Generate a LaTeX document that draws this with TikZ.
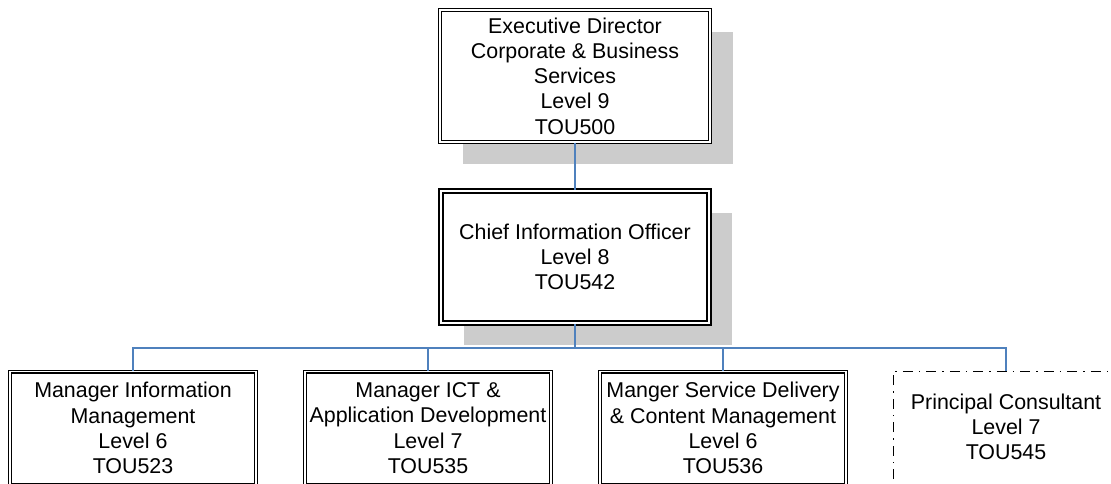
\documentclass[tikz,border=0pt]{standalone}
\usepackage{fontspec}
\setmainfont{Liberation Sans}
\usetikzlibrary{shadows}
\definecolor{linkblue}{RGB}{79,129,189}
\definecolor{shadegray}{RGB}{204,204,204}
\begin{document}
\begin{tikzpicture}[x=1pt,y=-1pt]
      \useasboundingbox (0,0) rectangle (1111,483);

      \begin{scope}[every node/.style={rectangle,draw,fill=white,align=center,inner sep=0pt,
          font=\fontsize{21.4}{25.3}\selectfont}]
        \node[double,line width=1.2pt,double distance=1.6pt,minimum width=270pt,minimum height=132pt,
          drop shadow={shadow xshift=23pt,shadow yshift=-22pt,fill=shadegray,opacity=1}]
          (1) at (575,76) {Executive Director\\Corporate \& Business\\Services\\Level 9\\TOU500};
        \node[double,line width=1.8pt,double distance=2pt,minimum width=268.4pt,minimum height=132.4pt,
          drop shadow={shadow xshift=23pt,shadow yshift=-22pt,fill=shadegray,opacity=1}]
          (2) at (575,257) {Chief Information Officer\\Level 8\\TOU542};
      \end{scope}

      \begin{scope}[every node/.style={rectangle,draw,fill=white,align=center,inner sep=0pt,
          minimum height=113pt,font=\fontsize{21.4}{25.3}\selectfont}]
        \node[double,line width=1.2pt,double distance=1.6pt,minimum width=246pt]
          (3) at (133,428) {Manager Information\\Management\\Level 6\\TOU523};
        \node[double,line width=1.2pt,double distance=1.6pt,minimum width=246pt]
          (4) at (428,428) {Manager ICT \&\\Application Development\\Level 7\\TOU535};
        \node[double,line width=1.2pt,double distance=1.6pt,minimum width=246pt]
          (5) at (723,428) {Manger Service Delivery\\\& Content Management\\Level 6\\TOU536};
        \node[draw=none,minimum width=225pt,minimum height=111pt]
          (6) at (1006,427) {Principal Consultant\\Level 7\\TOU545};
      \end{scope}

      % dash-dot frame, runs off the page
      \draw[line width=1.6pt,dash pattern=on 10pt off 6pt on 1.5pt off 6pt]
        ([yshift=-20pt]6.south west) -- (6.north west) -- ([xshift=20pt]6.north east);

      \coordinate (bus) at (575,348);

      \begin{scope}[every path/.style={draw=linkblue,line width=1.3pt}]
        \path (1) -- (2);
        \path (2) -- (bus);
        \path (bus) -| (3);
        \path (bus) -| (4);
        \path (bus) -| (5);
        \path (bus) -| (6.north);
      \end{scope}

    \end{tikzpicture}
\end{document}
